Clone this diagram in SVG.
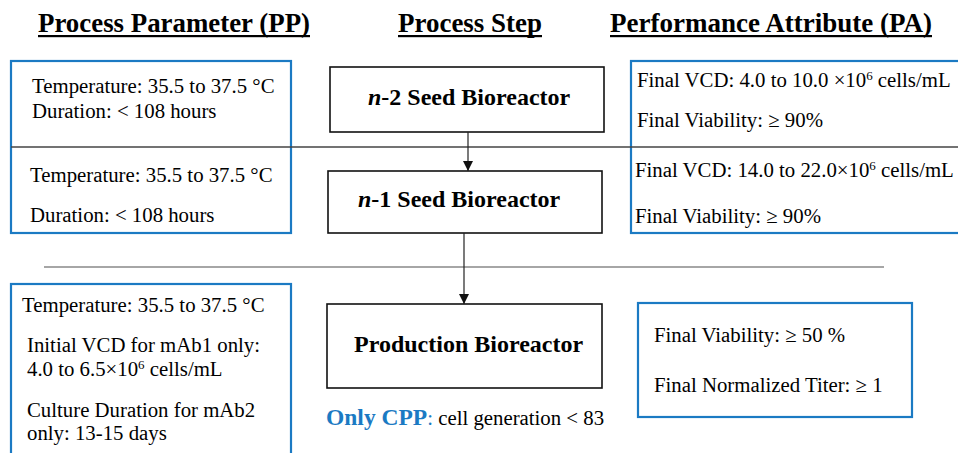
<svg xmlns="http://www.w3.org/2000/svg" width="958" height="453" viewBox="0 0 958 453">
  <style>
    .hdr { font-family: "Liberation Serif", "Times New Roman", serif; font-weight: bold; font-size: 27px; fill: #000; }
    .txt { font-family: "Liberation Serif", "Times New Roman", serif; font-size: 20.8px; fill: #000; }
    .step { font-family: "Liberation Serif", "Times New Roman", serif; font-weight: bold; font-size: 24px; fill: #000; }
    .blue { fill: #fff; stroke: #1b7ac3; stroke-width: 2.2; }
    .stepbox { fill: #fff; stroke: #111; stroke-width: 1.6; }
    .sup { font-size: 13px; }
    .conn { stroke: #222; stroke-width: 1.2; fill: none; }
  </style>
  <defs>
    <marker id="arrow" viewBox="0 0 10 10" refX="10" refY="5" markerWidth="10" markerHeight="10" markerUnits="userSpaceOnUse" orient="auto">
      <path d="M0,0 L10,5 L0,10 Z" fill="#111"/>
    </marker>
  </defs>

  <rect width="958" height="453" fill="#fff"/>

  <!-- column headers -->
  <g id="headers">
    <text class="hdr" x="38" y="32" textLength="272" lengthAdjust="spacingAndGlyphs">Process Parameter (PP)</text>
    <rect x="38" y="35" width="272" height="2.2" fill="#000"/>
    <text class="hdr" x="398" y="32" textLength="144" lengthAdjust="spacingAndGlyphs">Process Step</text>
    <rect x="398" y="35" width="144" height="2.2" fill="#000"/>
    <text class="hdr" x="610" y="32" textLength="322" lengthAdjust="spacingAndGlyphs">Performance Attribute (PA)</text>
    <rect x="610" y="35" width="322" height="2.2" fill="#000"/>
  </g>

  <!-- seed stage parameter box -->
  <g id="pp-seed">
    <rect class="blue" x="11" y="61" width="280" height="172"/>
    <text class="txt" x="32" y="93">Temperature: 35.5 to 37.5 °C</text>
    <text class="txt" x="32" y="118">Duration: &lt; 108 hours</text>
    <text class="txt" x="30" y="182">Temperature: 35.5 to 37.5 °C</text>
    <text class="txt" x="30" y="222">Duration: &lt; 108 hours</text>
  </g>

  <!-- seed stage attribute box -->
  <g id="pa-seed">
    <rect class="blue" x="631" y="61" width="340" height="172"/>
    <text class="txt" x="637" y="87">Final VCD: 4.0 to 10.0 ×10<tspan class="sup" dy="-7">6</tspan><tspan dy="7"> cells/mL</tspan></text>
    <text class="txt" x="637" y="127">Final Viability: ≥ 90%</text>
    <text class="txt" x="635" y="177">Final VCD: 14.0 to 22.0×10<tspan class="sup" dy="-7">6</tspan><tspan dy="7"> cells/mL</tspan></text>
    <text class="txt" x="635" y="223">Final Viability: ≥ 90%</text>
  </g>

  <!-- stage separators -->
  <g id="separators">
    <line x1="11" y1="147" x2="958" y2="147" stroke="#444" stroke-width="1.3"/>
    <line x1="44" y1="267" x2="884" y2="267" stroke="#888" stroke-width="1.3"/>
  </g>

  <!-- process steps -->
  <g id="step-n2">
    <rect class="stepbox" x="330" y="67" width="274" height="65"/>
    <text class="step" x="368" y="105"><tspan font-style="italic">n</tspan>-2 Seed Bioreactor</text>
  </g>
  <g id="step-n1">
    <rect class="stepbox" x="328" y="171" width="274" height="62"/>
    <text class="step" x="358" y="207"><tspan font-style="italic">n</tspan>-1 Seed Bioreactor</text>
  </g>
  <g id="step-production">
    <rect class="stepbox" x="327" y="304" width="275" height="84"/>
    <text class="step" x="354" y="352">Production Bioreactor</text>
  </g>

  <!-- connectors between steps -->
  <g id="connectors">
    <line class="conn" x1="468" y1="132" x2="468" y2="171" marker-end="url(#arrow)"/>
    <line class="conn" x1="464" y1="233" x2="464" y2="304" marker-end="url(#arrow)"/>
  </g>

  <!-- CPP note -->
  <g id="cpp-note">
    <text class="txt" x="326" y="425" font-size="21.5px"><tspan font-weight="bold" fill="#1b7ac3" font-size="23.5px">Only CPP</tspan><tspan fill="#1b7ac3">:</tspan> cell generation &lt; 83</text>
  </g>

  <!-- production parameter box -->
  <g id="pp-production">
    <rect class="blue" x="11" y="284" width="280" height="180"/>
    <text class="txt" x="22" y="312">Temperature: 35.5 to 37.5 °C</text>
    <text class="txt" x="27" y="352">Initial VCD for mAb1 only:</text>
    <text class="txt" x="27" y="376">4.0 to 6.5×10<tspan class="sup" dy="-7">6</tspan><tspan dy="7"> cells/mL</tspan></text>
    <text class="txt" x="27" y="417">Culture Duration for mAb2</text>
    <text class="txt" x="27" y="440">only: 13-15 days</text>
  </g>

  <!-- production attribute box -->
  <g id="pa-production">
    <rect class="blue" x="638" y="303" width="274" height="114"/>
    <text class="txt" x="654" y="342">Final Viability: ≥ 50 %</text>
    <text class="txt" x="654" y="392">Final Normalized Titer: ≥ 1</text>
  </g>
</svg>
